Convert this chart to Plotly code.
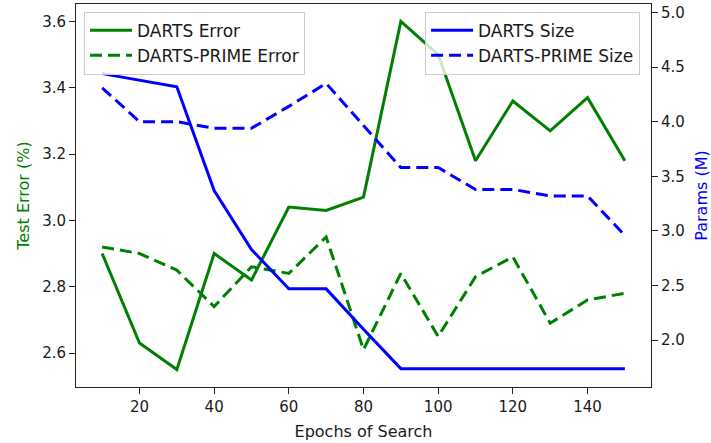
import plotly.graph_objects as go

epochs = [10, 20, 30, 40, 50, 60, 70, 80, 90, 100, 110, 120, 130, 140, 150]
darts_error = [2.90, 2.63, 2.55, 2.90, 2.82, 3.04, 3.03, 3.07, 3.60, 3.50, 3.18, 3.36, 3.27, 3.37, 3.18]
prime_error = [2.92, 2.90, 2.85, 2.74, 2.86, 2.84, 2.95, 2.61, 2.84, 2.65, 2.83, 2.89, 2.69, 2.76, 2.78]
darts_size = [4.44, 4.38, 4.32, 3.37, 2.83, 2.47, 2.47, 2.10, 1.74, 1.74, 1.74, 1.74, 1.74, 1.74, 1.74]
prime_size = [4.31, 4.00, 4.00, 3.94, 3.94, 4.14, 4.35, 3.97, 3.58, 3.58, 3.38, 3.38, 3.32, 3.32, 2.96]

x_ticks = [20, 40, 60, 80, 100, 120, 140]
err_ticks = [2.6, 2.8, 3.0, 3.2, 3.4, 3.6]
size_ticks = [2.0, 2.5, 3.0, 3.5, 4.0, 4.5, 5.0]

GREEN = "#008000"
BLUE = "#0000ff"
FONT = "DejaVu Sans"
DASH = "12px,6px"
TXT = "#1a1a1a"

fig = go.Figure()
fig.add_trace(go.Scatter(x=epochs, y=darts_error, name="DARTS Error", mode="lines",
                         line=dict(color=GREEN, width=3), legend="legend"))
fig.add_trace(go.Scatter(x=epochs, y=prime_error, name="DARTS-PRIME Error", mode="lines",
                         line=dict(color=GREEN, width=3, dash=DASH), legend="legend"))
fig.add_trace(go.Scatter(x=epochs, y=darts_size, name="DARTS Size", mode="lines",
                         line=dict(color=BLUE, width=3), yaxis="y2", legend="legend2"))
fig.add_trace(go.Scatter(x=epochs, y=prime_size, name="DARTS-PRIME Size", mode="lines",
                         line=dict(color=BLUE, width=3, dash=DASH), yaxis="y2", legend="legend2"))

axis_common = dict(showline=True, linecolor="#222", linewidth=1, ticks="outside",
                   ticklen=6, tickcolor="#222", showgrid=False, zeroline=False,
                   tickfont=dict(family=FONT, size=15, color=TXT))

legend_common = dict(yanchor="top", bgcolor="rgba(255,255,255,0.8)",
                     bordercolor="#cccccc", borderwidth=1,
                     font=dict(family=FONT, size=17, color=TXT),
                     tracegroupgap=0, itemwidth=42)

fig.update_layout(
    width=711, height=443,
    margin=dict(l=76, r=60, t=4, b=56, autoexpand=False),
    plot_bgcolor="white", paper_bgcolor="white",
    font=dict(family=FONT, size=16, color=TXT),
    xaxis=dict(range=[3.0, 157.0], tickvals=x_ticks, mirror=True,
               title=dict(text="Epochs of Search", font=dict(family=FONT, size=16, color=TXT), standoff=10),
               **axis_common),
    yaxis=dict(range=[2.4975, 3.6525], tickvals=err_ticks, tickformat=".1f",
               title=dict(text="Test Error (%)", font=dict(family=FONT, size=16, color=GREEN), standoff=8),
               **axis_common),
    yaxis2=dict(range=[1.572, 5.077], tickvals=size_ticks, tickformat=".1f",
                overlaying="y", side="right",
                title=dict(text="Params (M)", font=dict(family=FONT, size=16, color=BLUE), standoff=17),
                **axis_common),
    legend=dict(x=0.014, y=0.98, xanchor="left", **legend_common),
    legend2=dict(x=0.981, y=0.98, xanchor="right", **legend_common),
    showlegend=True,
)

fig.write_html("out.html", config={"displayModeBar": False},
               post_script="document.body.style.margin='0';document.body.style.padding='0';")
